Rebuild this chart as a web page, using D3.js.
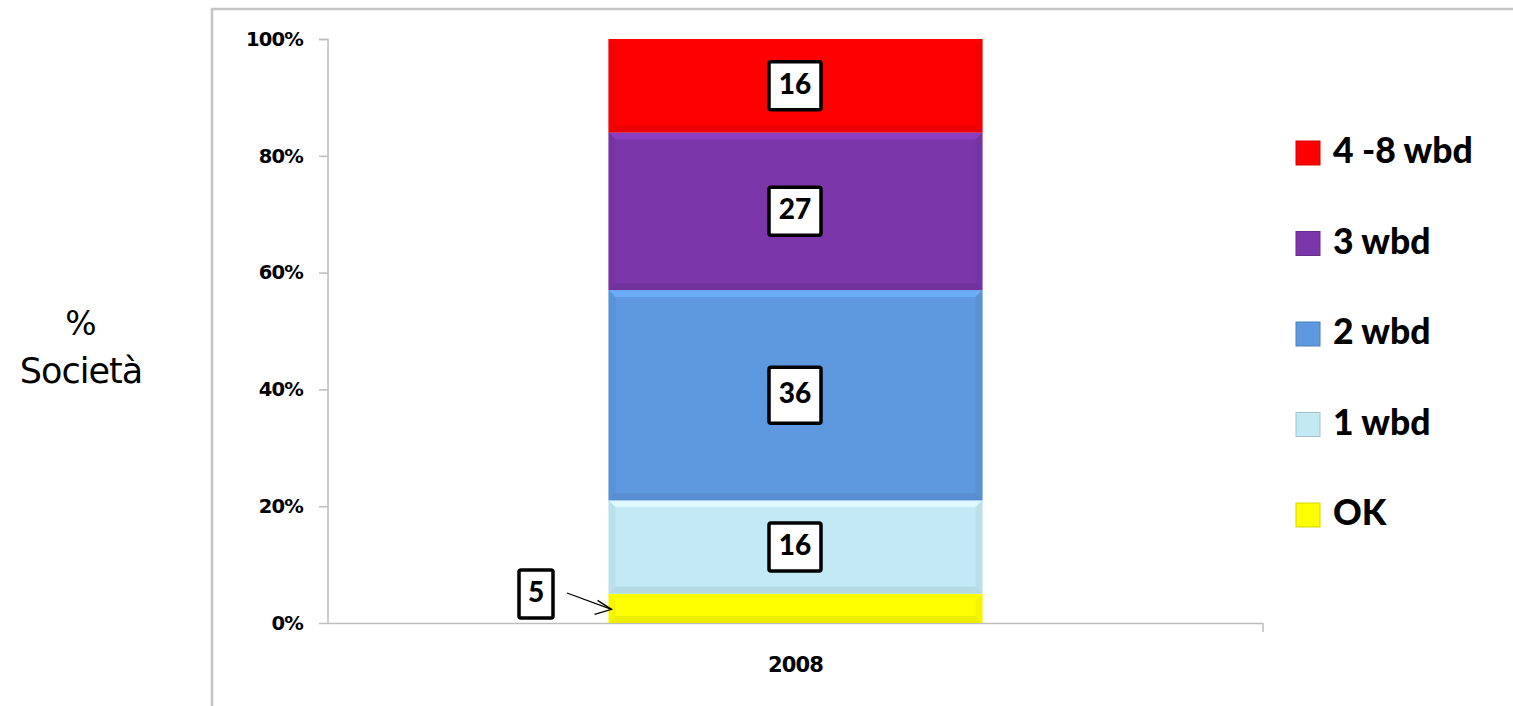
<!DOCTYPE html>
<html>
<head>
<meta charset="utf-8">
<script src="https://cdn.jsdelivr.net/npm/d3@7"></script>
<style>
  body { margin: 0; background: #fff; }
</style>
</head>
<body>
<div id="chart"></div>
<script>
// data
var categories = ["2008"];
var series = ["OK", "1 wbd", "2 wbd", "3 wbd", "4 -8 wbd"];
var values = [5, 16, 36, 27, 16];
var colors = ["#ffff00", "#c3eaf4", "#5e98df", "#7b36a9", "#fe0000"];
var yTicks = [0, 20, 40, 60, 80, 100];

var W = 1513, H = 706;
var svg = d3.select("#chart").append("svg")
    .attr("width", W).attr("height", H);

// chart frame
svg.append("rect")
  .attr("x", 212).attr("y", 9)
  .attr("width", 1400).attr("height", 800)
  .attr("fill", "none").attr("stroke", "#c4c4c4").attr("stroke-width", 2.5);

var x = d3.scaleBand().domain(categories).range([328, 1263]).padding(0.4286);
var y = d3.scaleLinear().domain([0, 100]).range([623, 39]);

// y axis
var yAxis = svg.append("g")
  .attr("transform", "translate(328,0)")
  .call(d3.axisLeft(y).tickValues(yTicks).tickSize(9).tickPadding(16)
    .tickFormat(function(d) { return d + "%"; }));
yAxis.selectAll("path, line").attr("stroke", "#bdbdbd").attr("stroke-width", 1.5);
yAxis.select("path").attr("d", "M-9,39.5H0V623.5");
yAxis.selectAll("text")
  .attr("font-family", "DejaVu Sans").attr("font-weight", "bold")
  .attr("font-size", 19.5).attr("fill", "#000").attr("letter-spacing", -0.8);

// x axis
var xAxis = svg.append("g")
  .attr("transform", "translate(0,623)")
  .call(d3.axisBottom(x).tickSize(0).tickPadding(34));
xAxis.select("path").attr("stroke", "#bdbdbd").attr("stroke-width", 1.5)
  .attr("d", "M328,0.5H1263V9");
xAxis.selectAll("text")
  .attr("font-family", "DejaVu Sans").attr("font-weight", "bold")
  .attr("font-size", 21).attr("fill", "#000").attr("letter-spacing", -0.8);

// stacked segments
var stacked = [];
var acc = 0;
values.forEach(function(v, i) {
  stacked.push({ name: series[i], value: v, y0: acc, y1: acc + v, color: colors[i] });
  acc += v;
});

var bx = x("2008"), bw = x.bandwidth();
var seg = svg.append("g").selectAll("g").data(stacked).enter().append("g");

function bevel(d) { return Math.min(7, (y(d.y0) - y(d.y1)) / 4); }

seg.append("rect")
  .attr("x", bx).attr("y", function(d) { return y(d.y1); })
  .attr("width", bw).attr("height", function(d) { return y(d.y0) - y(d.y1); })
  .attr("fill", function(d) { return d.color; });

// bevel: light top, dark bottom, shaded sides
seg.append("path")
  .attr("d", function(d) {
    var t = y(d.y1), e = bevel(d);
    return "M" + bx + "," + t + "H" + (bx + bw) + "L" + (bx + bw - e) + "," + (t + e) +
      "H" + (bx + e) + "Z";
  })
  .attr("fill", function(d) { return d3.color(d.color).brighter(0.5); }).attr("opacity", 0.7);
seg.append("path")
  .attr("d", function(d) {
    var b = y(d.y0), e = bevel(d);
    return "M" + bx + "," + b + "H" + (bx + bw) + "L" + (bx + bw - e) + "," + (b - e) +
      "H" + (bx + e) + "Z";
  })
  .attr("fill", function(d) { return d3.color(d.color).darker(0.5); }).attr("opacity", 0.4);
seg.append("path")
  .attr("d", function(d) {
    var t = y(d.y1), b = y(d.y0), e = bevel(d);
    return "M" + bx + "," + t + "L" + (bx + e) + "," + (t + e) + "V" + (b - e) +
      "L" + bx + "," + b + "Z" +
      "M" + (bx + bw) + "," + t + "L" + (bx + bw - e) + "," + (t + e) + "V" + (b - e) +
      "L" + (bx + bw) + "," + b + "Z";
  })
  .attr("fill", function(d) { return d3.color(d.color).darker(0.3); }).attr("opacity", 0.4);

// data labels
var cx = bx + bw / 2;
stacked.forEach(function(d) {
  var lx, ly, w, h;
  if (d.value < 8) {
    lx = 536; ly = 594; w = 34; h = 48;
  } else {
    lx = cx - 0.5; ly = (y(d.y0) + y(d.y1)) / 2; w = 52; h = d.value > 30 ? 56 : 48;
  }
  svg.append("rect")
    .attr("x", lx - w / 2).attr("y", ly - h / 2)
    .attr("width", w).attr("height", h).attr("rx", 2)
    .attr("fill", "#fff").attr("stroke", "#000").attr("stroke-width", 3.5);
  svg.append("text")
    .attr("x", lx).attr("y", ly + 1)
    .attr("text-anchor", "middle").attr("dominant-baseline", "middle")
    .attr("font-family", "Lato").attr("font-weight", "900").attr("font-size", 28)
    .text(d.value);
  if (d.value < 8) {
    var ax = bx + 3, ay = y(d.y0 + d.value / 2) + 1;
    svg.append("line")
      .attr("x1", 567).attr("y1", 593).attr("x2", ax).attr("y2", ay)
      .attr("stroke", "#000").attr("stroke-width", 1.3);
    svg.append("path")
      .attr("d", "M" + (ax - 14) + "," + (ay - 9) + "L" + ax + "," + ay + "L" + (ax - 17) + "," + (ay + 5))
      .attr("fill", "none").attr("stroke", "#000").attr("stroke-width", 1.3);
  }
});

// legend
var legend = svg.append("g").selectAll("g")
  .data(stacked.slice().reverse()).enter().append("g")
  .attr("transform", function(d, i) { return "translate(1296," + (153 + i * 90.5) + ")"; });
legend.append("rect")
  .attr("x", 0).attr("y", -12).attr("width", 24).attr("height", 24)
  .attr("fill", function(d) { return d.color; })
  .attr("stroke", function(d) { return d3.color(d.color).darker(0.5); }).attr("stroke-width", 1);
legend.append("text")
  .attr("x", 37).attr("y", 1)
  .attr("dominant-baseline", "middle")
  .attr("font-family", "Lato").attr("font-weight", "900").attr("font-size", 35.5)
  .text(function(d) { return d.name; });

// y title
var title = svg.append("text")
  .attr("text-anchor", "middle")
  .attr("font-family", "DejaVu Sans").attr("font-size", 35).attr("fill", "#000");
title.append("tspan").attr("x", 81).attr("y", 335).attr("font-size", 33).text("%");
title.append("tspan").attr("x", 81).attr("y", 383).attr("letter-spacing", -1).text("Società");
</script>
</body>
</html>
